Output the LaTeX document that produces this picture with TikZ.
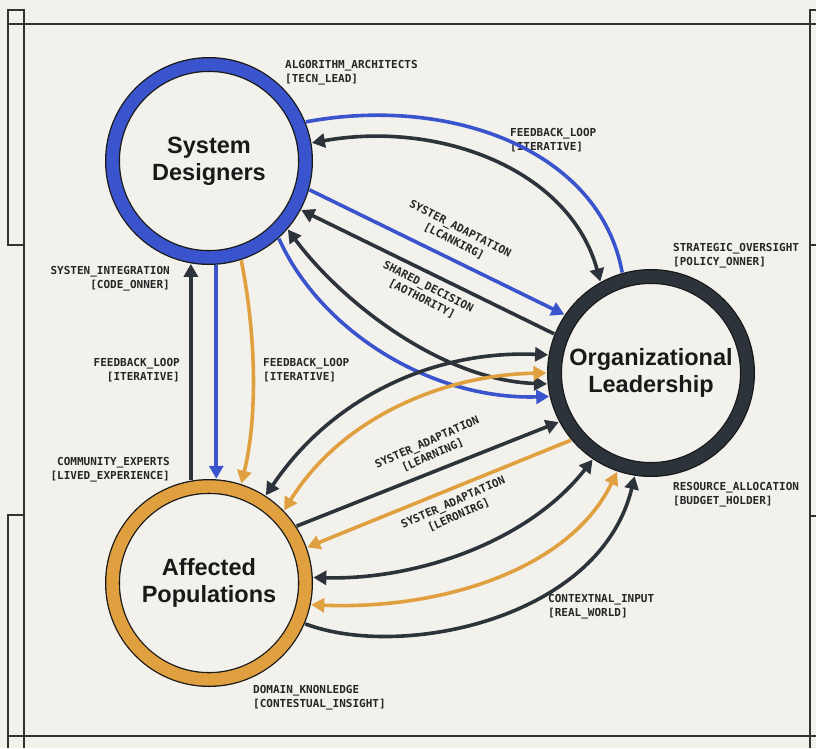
\documentclass[tikz,border=0pt]{standalone}
\usepackage{fontspec}
\setmainfont{Liberation Sans}
\newfontfamily\tagfont{DejaVu Sans Mono}
\usetikzlibrary{arrows.meta,positioning}
\definecolor{bg}{RGB}{243,241,236}
\definecolor{sdblue}{RGB}{58,84,205}
\definecolor{aporange}{RGB}{224,160,64}
\definecolor{oldark}{RGB}{44,51,59}

\begin{document}
\begin{tikzpicture}
[x=1pt,y=-1pt,
 ring/.style={circle,minimum size=193pt,inner sep=0pt,outer sep=8pt,line width=1.3pt,
   draw=black!90,double distance=12.4pt,align=center,text=black!90,
   font=\bfseries\fontsize{23.5}{27}\selectfont},
 tag/.style={inner sep=0pt,text=black!85,font=\tagfont\bfseries\fontsize{11}{14}\selectfont},
 frameline/.style={line width=1.4pt,draw=black!80},
 link/.style={line width=3.6pt},
 onehead/.style={-{Triangle[length=13pt,width=14pt]}},
 twohead/.style={{Triangle[length=13pt,width=14pt]}-{Triangle[length=13pt,width=14pt]}}]

\fill[bg] (0,0) rectangle (816,748);
\useasboundingbox (0,0) rectangle (816,748);

\draw[frameline] (8,24) -- (816,24);
\draw[frameline] (8,736) -- (816,736);
\draw[frameline] (24,10) -- (24,748);
\draw[frameline] (8,10) rectangle (24,245);
\draw[frameline] (24,515) -- (8,515) -- (8,748);
\draw[frameline] (816,10) -- (810,10) -- (810,748);
\draw[frameline] (810,245) -- (816,245);
\draw[frameline] (810,516) -- (816,516);

\node[ring,double=sdblue] (sd) at (209,161) {System\\Designers};
\node[ring,double=oldark] (ol) at (651,373) {Organizational\\Leadership};
\node[ring,double=aporange] (ap) at (209,583) {Affected\\Populations};

\node[tag,anchor=north west,align=left] (archtag) at (285,60) {ALGORITHM\_ARCHITECTS\\{}[TECN\_LEAD]};
\node[tag,anchor=north west,align=left] (looptag1) at (510,128) {FEEDBACK\_LOOP\\{}[ITERATIVE]};
\node[tag,anchor=north west,align=left] (oversighttag) at (673,243) {STRATEGIC\_OVERSIGHT\\{}[POLICY\_ONNER]};
\node[tag,anchor=north east,align=right] (integtag) at (170,266) {SYSTEN\_INTEGRATION\\{}[CODE\_ONNER]};
\node[tag,anchor=north east,align=right] (looptag2) at (180,358) {FEEDBACK\_LOOP\\{}[ITERATIVE]};
\node[tag,anchor=north west,align=left] (looptag3) at (263,358) {FEEDBACK\_LOOP\\{}[ITERATIVE]};
\node[tag,anchor=north east,align=right] (experttag) at (170,457) {COMMUNITY\_EXPERTS\\{}[LIVED\_EXPERIENCE]};
\node[tag,anchor=north west,align=left] (domaintag) at (253,685) {DOMAIN\_KNONLEDGE\\{}[CONTESTUAL\_INSIGHT]};
\node[tag,anchor=north west,align=left] (inputtag) at (548,594) {CONTEXTNAL\_INPUT\\{}[REAL\_WORLD]};
\node[tag,anchor=north west,align=left] (resourcetag) at (673,482) {RESOURCE\_ALLOCATION\\{}[BUDGET\_HOLDER]};
\node[tag,align=center,rotate=-27] (adapttag1) at (457,235) {SYSTER\_ADAPTATION\\{}[LCANKIRG]};
\node[tag,align=center,rotate=-27] (sharedtag) at (425,293) {SHARED\_DECISION\\{}[AOTHORITY]};
\node[tag,align=center,rotate=24] (adapttag2) at (430,449) {SYSTER\_ADAPTATION\\{}[LEARNING]};
\node[tag,align=center,rotate=24] (adapttag3) at (456,509) {SYSTER\_ADAPTATION\\{}[LERONIRG]};

\draw[link,sdblue] (sd.22) .. controls (450,95) and (600,150) .. (ol.106);
\draw[link,oldark,twohead] (sd.10) .. controls (440,120) and (570,170) .. (ol.119);
\draw[link,sdblue,onehead] (sd.-16) -- (ol.146);
\draw[link,oldark,onehead] (ol.158) -- (sd.-28);
\draw[link,oldark,twohead] (sd.-41) .. controls (340,300) and (440,380) .. (ol.186);
\draw[link,sdblue,onehead] (sd.-48) .. controls (320,330) and (430,400) .. (ol.193);
\draw[link,oldark,twohead] (ap.57) .. controls (330,400) and (430,350) .. (ol.170);
\draw[link,aporange,twohead] (ap.44) .. controls (340,420) and (440,375) .. (ol.180);
\draw[link,oldark,onehead] (ap.33) -- (ol.208);
\draw[link,aporange,onehead] (ol.220) -- (ap.20);
\draw[link,oldark,twohead] (ap.3) .. controls (420,580) and (530,540) .. (ol.236);
\draw[link,aporange,twohead] (ap.-12) .. controls (440,610) and (570,570) .. (ol.251);
\draw[link,oldark,onehead] (ap.-23) .. controls (400,660) and (600,620) .. (ol.261);
\draw[link,oldark,onehead] (ap.100) -- (sd.-100);
\draw[link,sdblue,onehead] (sd.-86) -- (ap.86);
\draw[link,aporange,onehead] (sd.-72) .. controls (257,340) and (257,420) .. (ap.72);
\end{tikzpicture}
\end{document}
